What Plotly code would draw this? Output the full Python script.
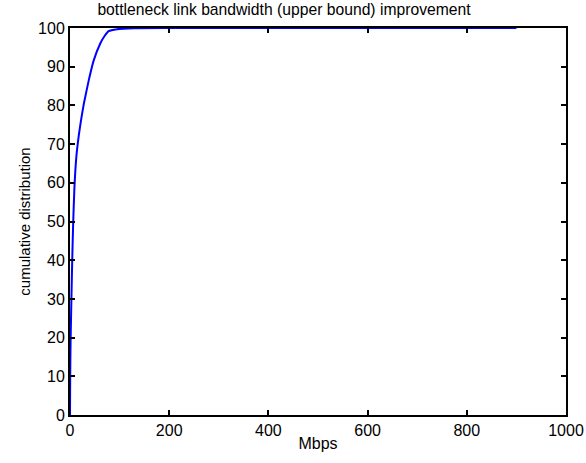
import plotly.graph_objects as go

mbps = [0, 0.3, 0.7, 1.2, 2, 3, 4.4, 6.4, 9, 13, 18, 23, 28, 38, 48, 61, 70, 78, 95, 130, 200, 400, 600, 900]
cdf = [0, 8, 14, 19, 24.5, 31, 39.5, 49.5, 59, 67, 72.5, 76.8, 80.5, 86.6, 91.7, 96, 98, 99.2, 99.7, 99.95, 100, 100, 100, 100]

title_text = "bottleneck link bandwidth (upper bound) improvement"
x_title = "Mbps"
y_title = "cumulative distribution"
x_ticks = [0, 200, 400, 600, 800, 1000]
y_ticks = [0, 10, 20, 30, 40, 50, 60, 70, 80, 90, 100]

fig = go.Figure()
fig.add_trace(go.Scatter(x=mbps, y=cdf, mode="lines",
                         line=dict(color="#0000FF", width=2, shape="spline", smoothing=0.5),
                         cliponaxis=False, showlegend=False))

font = "Liberation Sans, Arial, sans-serif"
axis_common = dict(showgrid=False, zeroline=False, showline=True, linecolor="black", linewidth=2,
                   mirror="ticks", ticks="inside", ticklen=5, tickwidth=2, tickcolor="black",
                   automargin=False,
                   tickfont=dict(family=font, size=16, color="black"))

fig.update_layout(
    width=586, height=463,
    margin=dict(l=70, r=20, t=28, b=48),
    paper_bgcolor="white", plot_bgcolor="white",
    title=dict(text=title_text, x=284 / 586, xref="container", xanchor="center",
               y=1 - 10 / 463, yref="container", yanchor="middle",
               font=dict(family=font, size=15.7, color="black")),
    xaxis=dict(range=[0, 1000], tickvals=x_ticks, ticktext=[str(v) for v in x_ticks],
               title=dict(text=x_title, font=dict(family=font, size=16, color="black"), standoff=0),
               **axis_common),
    yaxis=dict(range=[0, 100], tickvals=y_ticks, ticktext=[str(v) for v in y_ticks],
               title=dict(text=y_title, font=dict(family=font, size=15, color="black"), standoff=4),
               **axis_common),
)

fig.write_html("out.html")
